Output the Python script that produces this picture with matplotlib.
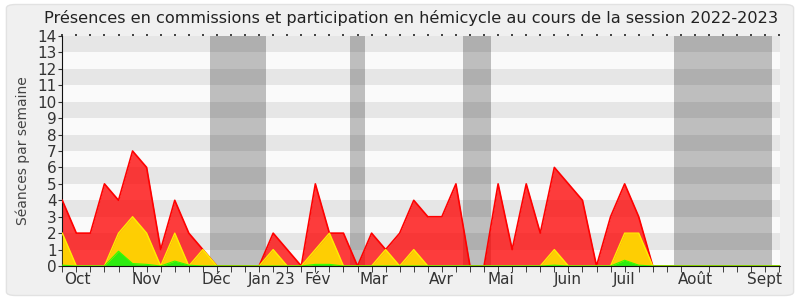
import numpy as np
import matplotlib.pyplot as plt
from matplotlib.patches import FancyBboxPatch

# Données hebdomadaires (session 2022-2023)
semaines = np.arange(52)
hemicycle = [4, 2, 2, 5, 4, 7, 6, 1, 4, 2, 1, 0, 0, 0, 0, 2, 1, 0, 5, 2,
             2, 0, 2, 1, 2, 4, 3, 3, 5, 0, 0, 5, 1, 5, 2, 6, 5, 4, 0, 3,
             5, 3, 0, 0, 0, 0, 0, 0, 0, 0, 0, 0]
commissions = [2, 0, 0, 0, 2, 3, 2, 0, 2, 0, 1, 0, 0, 0, 0, 1, 0, 0, 1, 2,
               0, 0, 0, 1, 0, 1, 0, 0, 0, 0, 0, 0, 0, 0, 0, 1, 0, 0, 0, 0,
               2, 2, 0, 0, 0, 0, 0, 0, 0, 0, 0, 0]
interventions = [0.05, 0, 0, 0, 0.9, 0.15, 0.1, 0, 0.3, 0.05, 0, 0, 0, 0, 0, 0, 0, 0, 0.1, 0.1,
                 0, 0, 0, 0, 0, 0, 0, 0, 0, 0, 0, 0, 0, 0, 0, 0.05, 0, 0, 0, 0,
                 0.35, 0.05, 0, 0, 0, 0, 0, 0, 0, 0, 0, 0]

# Vacances parlementaires (début, fin) en semaines
vacances = [(10.5, 14.5), (20.5, 21.5), (28.5, 30.5), (43.5, 50.5)]

mois = ['Oct', 'Nov', 'Déc', 'Jan 23', 'Fév', 'Mar', 'Avr', 'Mai', 'Juin', 'Juil', 'Août', 'Sept']
mois_pos = [1.05, 5.95, 10.95, 14.9, 18.2, 22.2, 26.95, 31.2, 35.95, 39.95, 45.0, 49.95]

fig = plt.figure(figsize=(8, 3), dpi=100)
fig.patch.set_facecolor('white')
cadre = FancyBboxPatch((0.008, 0.015), 0.984, 0.97, boxstyle='round,pad=0,rounding_size=0.012',
                       transform=fig.transFigure, facecolor='#F0F0F0', edgecolor='#E2E2E2', lw=1,
                       zorder=-10)
fig.patches.append(cadre)

ax = fig.add_axes([0.0775, 0.1133, 0.8975, 0.7667])
ax.set_facecolor('#FAFAFA')

# bandes grises des vacances
for debut, fin in vacances:
    ax.axvspan(debut, fin, color='#BEBEBE', lw=0, zorder=0.5)

# rayures horizontales
for y in range(1, 14, 2):
    ax.axhspan(y, y + 1, color='black', alpha=0.08, lw=0, zorder=1)

ax.fill_between(semaines, hemicycle, color='#FF0000', alpha=0.76, lw=0, zorder=2)
ax.plot(semaines, hemicycle, color='#FF0000', lw=1.2, zorder=3)
ax.fill_between(semaines, commissions, color='#FFD700', alpha=0.95, lw=0, zorder=4)
ax.plot(semaines, commissions, color='#FFEE00', lw=1.0, zorder=5)
ax.fill_between(semaines, interventions, color='#22EE11', alpha=0.95, lw=0, zorder=6)
ax.plot(semaines, interventions, color='#33FF00', lw=0.8, zorder=7)

ax.set_xlim(-0.02, 51.05)
ax.set_ylim(0, 14)
ax.set_yticks(range(15))
ax.tick_params(axis='y', labelsize=11, length=3, colors='#333333', labelcolor='#333333', pad=1)

ax.set_xticks(mois_pos)
ax.set_xticklabels(mois)
ax.set_xticks(semaines, minor=True)
ax.tick_params(axis='x', which='major', length=0, labelsize=11, labelcolor='#333333', pad=4)
ax.tick_params(axis='x', which='minor', length=4, color='#222222', bottom=True, top=False)

# petits repères en haut
haut = ax.secondary_xaxis('top')
haut.set_xticks(semaines)
haut.tick_params(length=1.5, width=1.2, color='#222222', labeltop=False)
haut.spines['top'].set_visible(False)

for s in ['top', 'right']:
    ax.spines[s].set_visible(False)
ax.spines['left'].set_color('#111111')
ax.spines['bottom'].set_color('#111111')
ax.spines['bottom'].set_zorder(8)

ax.set_ylabel('Séances par semaine', fontsize=10, color='#444444', labelpad=5)
fig.text(0.514, 0.94, 'Présences en commissions et participation en hémicycle au cours de la session 2022-2023',
         ha='center', va='center', fontsize=11.6, color='#222222')

fig.savefig('out.png', dpi=100)
